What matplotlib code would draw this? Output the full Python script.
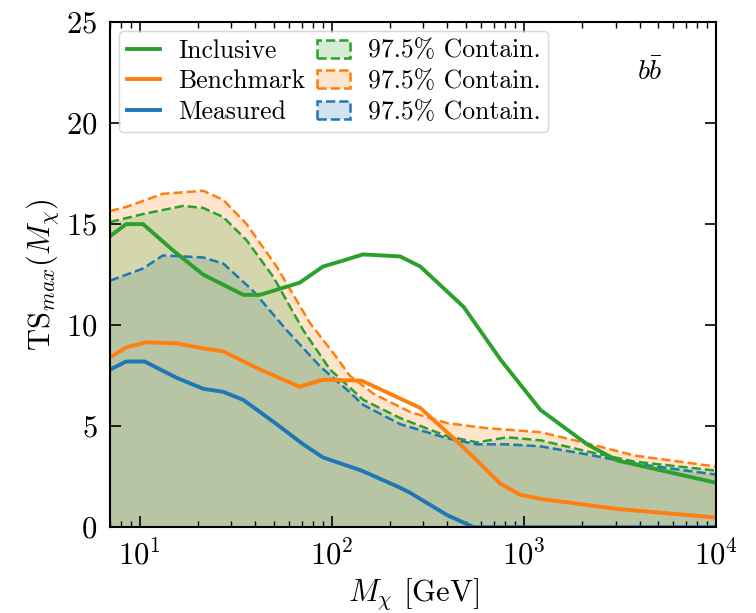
import matplotlib
matplotlib.use("Agg")
import matplotlib.pyplot as plt
import matplotlib.patches as mpatches
from matplotlib.colors import to_rgba

plt.rcParams['font.family'] = 'cmr10'
plt.rcParams['mathtext.fontset'] = 'cm'
plt.rcParams['axes.formatter.use_mathtext'] = True

# solid lines: TS_max vs mass
incl_m = [7, 8.5, 10.4, 14.9, 21.4, 34.6, 42.3, 68, 90, 115, 145, 227, 289, 486, 755, 1221, 2137, 3069, 10000]
incl_ts = [14.4, 15.0, 15.0, 13.7, 12.5, 11.5, 11.5, 12.1, 12.9, 13.2, 13.5, 13.4, 12.9, 10.9, 8.3, 5.8, 4.1, 3.3, 2.2]

bench_m = [7, 8.5, 10.8, 15.5, 21.4, 27.2, 42.3, 68, 90, 143, 201, 289, 467, 755, 959, 1221, 3069, 10000]
bench_ts = [8.4, 8.9, 9.15, 9.1, 8.85, 8.7, 7.8, 6.95, 7.3, 7.25, 6.6, 5.9, 4.1, 2.15, 1.6, 1.4, 0.9, 0.48]

meas_m = [7, 8.5, 10.6, 15.5, 21.4, 27.2, 34.6, 51.6, 71, 90, 143, 227, 256, 398, 548, 10000]
meas_ts = [7.8, 8.2, 8.2, 7.4, 6.85, 6.7, 6.3, 5.1, 4.1, 3.45, 2.8, 1.95, 1.7, 0.6, 0.0, 0.0]

# dashed lines: 97.5% containment
incl_c_m = [7, 10.4, 16.8, 21.4, 27.2, 36, 49.5, 71, 98, 146, 227, 398, 570, 818, 1221, 2137, 3740, 10000]
incl_c_ts = [15.1, 15.5, 15.9, 15.8, 15.35, 14.2, 12.4, 9.75, 7.8, 6.3, 5.4, 4.5, 4.2, 4.45, 4.3, 3.75, 3.25, 2.8]

bench_c_m = [7, 8.5, 13.2, 21.4, 27.2, 36, 51.6, 77, 106, 124, 165, 256, 398, 643, 1221, 2137, 3740, 10000]
bench_c_ts = [15.65, 15.85, 16.5, 16.65, 16.2, 15.0, 12.9, 10.1, 8.4, 7.5, 6.6, 5.7, 5.15, 4.9, 4.7, 4.15, 3.55, 3.0]

meas_c_m = [7, 10.4, 13.2, 21.4, 27.2, 38.9, 58.2, 87, 120, 146, 227, 398, 570, 818, 1221, 2137, 3740, 10000]
meas_c_ts = [12.2, 12.8, 13.45, 13.35, 13.05, 11.7, 9.75, 7.95, 6.8, 6.05, 5.1, 4.4, 4.1, 4.1, 4.0, 3.6, 3.15, 2.6]

BLUE, ORANGE, GREEN = '#1f77b4', '#ff7f0e', '#2ca02c'


def main():
    fig = plt.figure(figsize=(7.56, 6.13), dpi=100)
    ax = fig.add_axes([0.1455, 0.140, 0.8015, 0.824])

    # bands first, then dashed edges
    ax.fill_between(meas_c_m, 0, meas_c_ts, color=BLUE, alpha=0.2, lw=0)
    ax.fill_between(bench_c_m, 0, bench_c_ts, color=ORANGE, alpha=0.2, lw=0)
    ax.fill_between(incl_c_m, 0, incl_c_ts, color=GREEN, alpha=0.2, lw=0)
    ax.plot(bench_c_m, bench_c_ts, '--', color=ORANGE, lw=1.8)
    ax.plot(incl_c_m, incl_c_ts, '--', color=GREEN, lw=1.8)
    ax.plot(meas_c_m, meas_c_ts, '--', color=BLUE, lw=1.8)

    l1, = ax.plot(incl_m, incl_ts, color=GREEN, lw=2.8)
    l2, = ax.plot(bench_m, bench_ts, color=ORANGE, lw=2.8)
    l3, = ax.plot(meas_m, meas_ts, color=BLUE, lw=2.8)

    patches = [mpatches.Patch(facecolor=to_rgba(c, 0.2), edgecolor=c, ls='--', lw=1.8)
               for c in (GREEN, ORANGE, BLUE)]
    handles = [l1, l2, l3] + patches
    labels = ['Inclusive', 'Benchmark', 'Measured'] + ['97.5% Contain.'] * 3
    ax.legend(handles, labels, ncol=2, loc='upper left', fontsize=18.5,
              columnspacing=0.45, handlelength=1.3, handletextpad=0.7,
              labelspacing=0.28, borderpad=0.3, borderaxespad=0.35)

    ax.text(0.87, 0.885, r'$b\bar{b}$', transform=ax.transAxes, fontsize=20)

    ax.set_xscale('log')
    ax.set_xlim(7, 1e4)
    ax.set_ylim(0, 25)
    ax.set_xlabel(r'$M_\chi$ [GeV]', fontsize=22, labelpad=4)
    ax.set_ylabel(r'TS$_{max}(M_\chi)$', fontsize=22, labelpad=4)
    ax.tick_params(which='both', direction='in', top=True, right=True, labelsize=22, pad=9)
    ax.tick_params(which='major', length=8, width=1.2)
    ax.tick_params(which='minor', length=4, width=1)
    for s in ax.spines.values():
        s.set_linewidth(1.5)

    fig.savefig('out.png', dpi=100)


if __name__ == '__main__':
    main()
